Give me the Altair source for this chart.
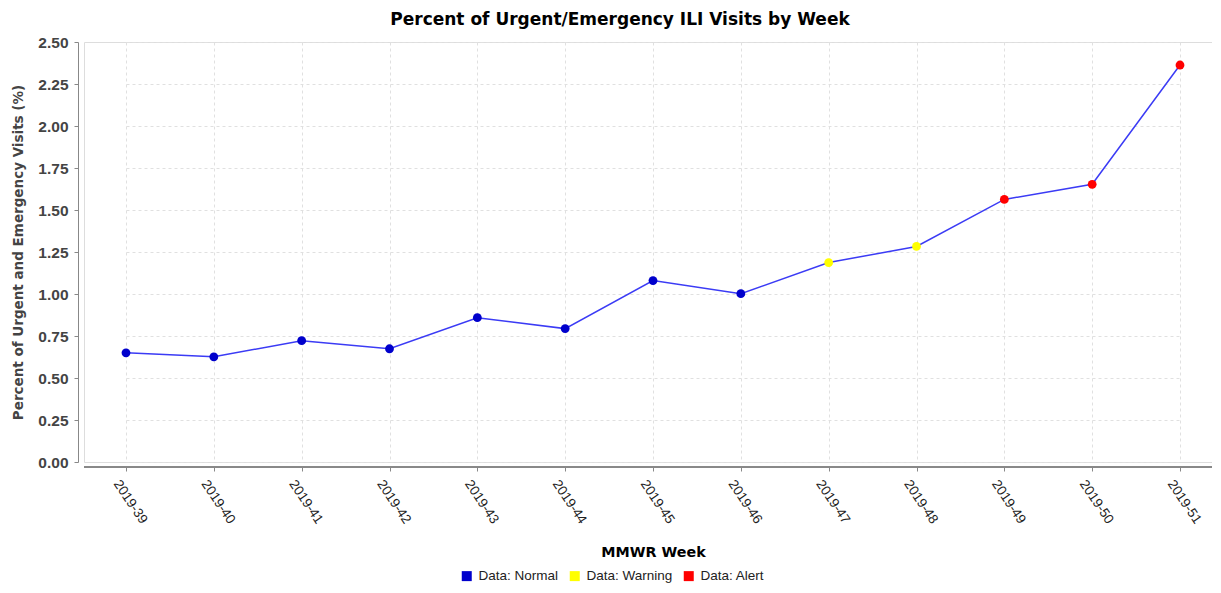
import altair as alt
import pandas as pd

weeks = ["2019-39", "2019-40", "2019-41", "2019-42", "2019-43", "2019-44", "2019-45",
         "2019-46", "2019-47", "2019-48", "2019-49", "2019-50", "2019-51"]
values = [0.650, 0.626, 0.722, 0.674, 0.859, 0.794, 1.080, 1.002, 1.187, 1.283, 1.563, 1.653, 2.363]
status = ["Data: Normal"] * 8 + ["Data: Warning"] * 2 + ["Data: Alert"] * 3
status_names = ["Data: Normal", "Data: Warning", "Data: Alert"]
status_colors = ["#0000cc", "#ffff00", "#ff0000"]
y_ticks = [0, 0.25, 0.5, 0.75, 1.0, 1.25, 1.5, 1.75, 2.0, 2.25, 2.5]

df = pd.DataFrame({"week": weeks, "pct": values, "status": status})

FONT = "Liberation Sans"
WIDE = "DejaVu Sans"
W, H = 1128, 420

x_enc = alt.X(
    "week:N",
    sort=weeks,
    scale=alt.Scale(type="point", range=[42, 1096], padding=0),
    axis=alt.Axis(
        title="MMWR Week",
        titleFont=WIDE, titleFontSize=14.3, titleFontWeight="bold", titleColor="#000000",
        titlePadding=20,
        labelFont=FONT, labelFontSize=13.5, labelColor="#222222",
        labelAngle=56, labelAlign="left", labelBaseline="middle", labelPadding=10,
        labelOffset=-10,
        offset=5, tickSize=4, tickColor="#888888", domain=False,
        grid=True, gridDash=[3, 3], gridColor="#e0e0e0",
    ),
)
y_enc = alt.Y(
    "pct:Q",
    scale=alt.Scale(domain=[0, 2.5], nice=False, zero=True),
    axis=alt.Axis(
        title="Percent of Urgent and Emergency Visits (%)",
        titleFont=WIDE, titleFontSize=13.5, titleFontWeight="bold", titleColor="#444444",
        titlePadding=12,
        values=y_ticks, format=".2f",
        labelFont=FONT, labelFontSize=15.5, labelFontWeight="bold", labelColor="#444444",
        labelPadding=6,
        offset=6, tickSize=4, tickColor="#888888", domainColor="#888888",
        grid=True, gridDash=[3, 3], gridColor="#e0e0e0",
    ),
)

base = alt.Chart(df)

# x-axis baseline spanning the whole plot width (below the plot frame)
x_domain = base.mark_rule(color="#888888", strokeWidth=1).encode(
    x=alt.value(0), x2=alt.value(W), y=alt.value(H + 5)
)

line = base.mark_line(color="#3b3bf5", strokeWidth=1.5).encode(x=x_enc, y=y_enc)

points = base.mark_point(filled=True, opacity=1, size=78, shape="circle").encode(
    x=x_enc,
    y=y_enc,
    color=alt.Color(
        "status:N",
        scale=alt.Scale(domain=status_names, range=status_colors),
        legend=alt.Legend(
            title=None, orient="none", direction="horizontal",
            legendX=376, legendY=527,
            symbolType="square", symbolSize=100, symbolStrokeWidth=0,
            labelFont=FONT, labelFontSize=13.5, labelColor="#222222",
            columnPadding=9, labelOffset=5,
        ),
    ),
)

chart = (
    alt.layer(line, points, x_domain)
    .properties(
        width=W,
        height=H,
        title=alt.TitleParams(
            "Percent of Urgent/Emergency ILI Visits by Week",
            font=WIDE, fontSize=17, fontWeight="bold", color="#000000",
            anchor="middle", dx=-28, offset=6,
        ),
        autosize=alt.AutoSizeParams(type="none"),
        padding={"left": 76, "top": 34, "right": 0, "bottom": 123},
    )
    .configure_view(stroke="#888888", strokeWidth=1)
    .configure(background="white")
)

chart.save("out.html", embed_options={"renderer": "svg", "actions": False})
